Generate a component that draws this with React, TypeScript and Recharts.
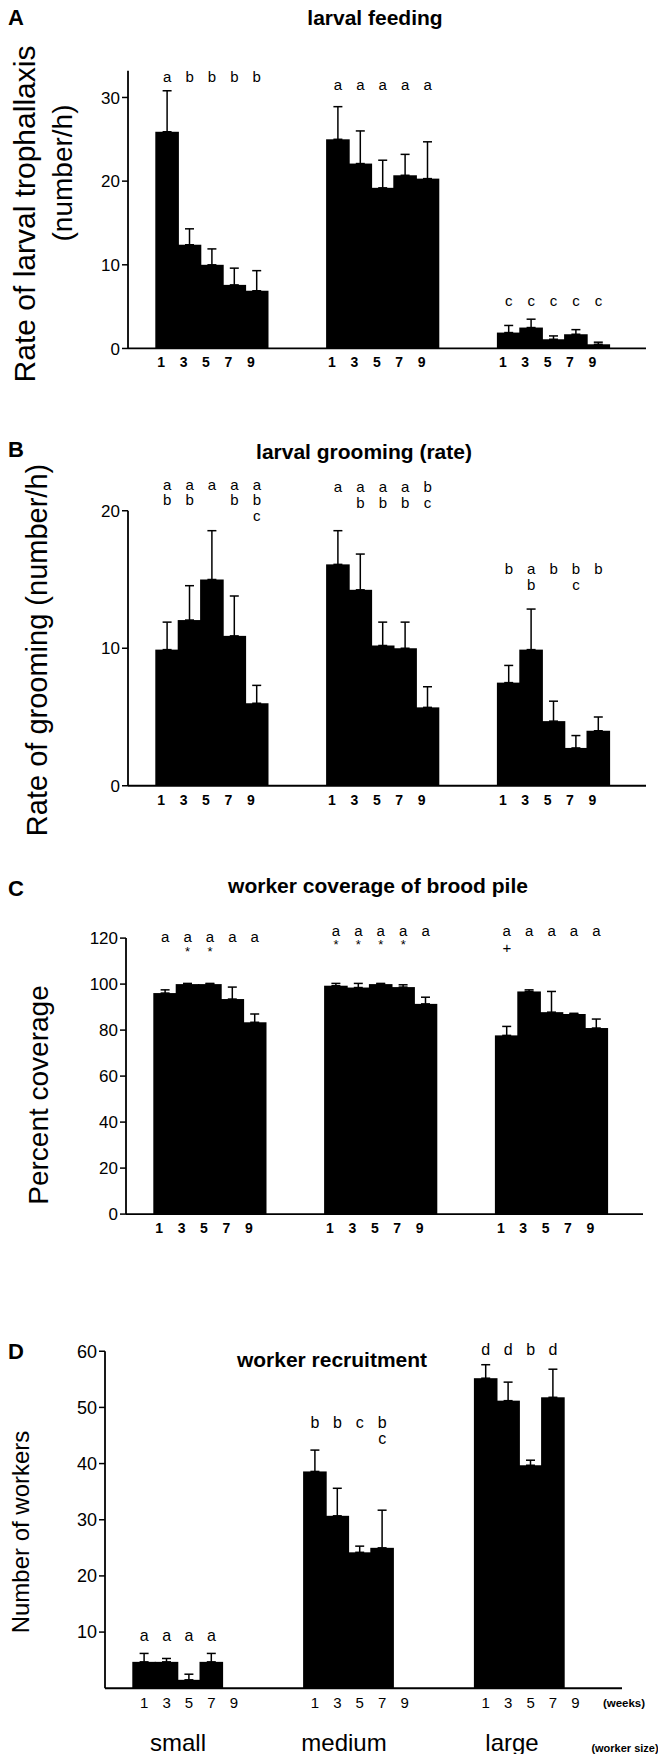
import { Bar, ComposedChart, ErrorBar, ReferenceLine, Scatter, XAxis, YAxis } from "recharts";

const FONT = '"Liberation Sans", Arial, Helvetica, sans-serif';
const WEEKS = [1, 3, 5, 7, 9];
const GROUP_SPAN = 15.25; // x units from one worker-size group to the next
const X_MIN = -2.5;

// A: larval feeding (small, medium, large)
const feedMeans = [
  [25.9, 12.4, 10.0, 7.6, 6.9],
  [25.0, 22.1, 19.2, 20.7, 20.3],
  [1.9, 2.5, 1.1, 1.7, 0.5],
];
const feedSe = [
  [4.9, 1.9, 1.9, 2.0, 2.4],
  [3.9, 3.9, 3.3, 2.5, 4.4],
  [0.85, 1.0, 0.4, 0.55, 0.25],
];
const feedLetters = [
  { group: 0, level: 32.5, marks: ["a", "b", "b", "b", "b"] },
  { group: 1, level: 31.5, marks: ["a", "a", "a", "a", "a"] },
  { group: 2, level: 5.7, marks: ["c", "c", "c", "c", "c"] },
];

// B: larval grooming (rate)
const groomMeans = [
  [9.9, 12.05, 15.0, 10.9, 6.0],
  [16.1, 14.25, 10.2, 10.0, 5.7],
  [7.5, 9.9, 4.7, 2.75, 4.0],
];
const groomSe = [
  [2.0, 2.5, 3.55, 2.9, 1.3],
  [2.45, 2.6, 1.7, 1.9, 1.5],
  [1.25, 2.95, 1.45, 0.9, 1.0],
];
const groomLetters = [
  { group: 0, level: 21.9, marks: ["a", "a", "a", "a", "a"] },
  { group: 0, level: 20.8, marks: ["b", "b", "", "b", "b"] },
  { group: 0, level: 19.65, marks: ["", "", "", "", "c"] },
  { group: 1, level: 21.75, marks: ["a", "a", "a", "a", "b"] },
  { group: 1, level: 20.6, marks: ["", "b", "b", "b", "c"] },
  { group: 2, level: 15.8, marks: ["b", "a", "b", "b", "b"] },
  { group: 2, level: 14.65, marks: ["", "b", "", "c", ""] },
];

// C: worker coverage of brood pile
const coverMeans = [
  [96.1, 100, 100, 93.5, 83.4],
  [99.3, 98.5, 100, 98.7, 91.4],
  [77.7, 96.8, 87.8, 87.0, 80.9],
];
const coverSe = [
  [1.4, 0.3, 0.3, 5.2, 3.6],
  [1.0, 1.8, 0.3, 1.0, 2.9],
  [3.9, 0.7, 9.0, 0.3, 3.9],
];
const coverLetters = [
  { group: 0, level: 120.9, marks: ["a", "a", "a", "a", "a"] },
  { group: 0, level: 114.3, marks: ["", "*", "*", "", ""] },
  { group: 1, level: 123.5, marks: ["a", "a", "a", "a", "a"] },
  { group: 1, level: 117.2, marks: ["*", "*", "*", "*", ""] },
  { group: 2, level: 123.5, marks: ["a", "a", "a", "a", "a"] },
  { group: 2, level: 116, marks: ["+", "", "", "", ""] },
];

// D: worker recruitment (no week-9 bar)
const recruitMeans = [
  [4.7, 4.7, 1.5, 4.7, null],
  [38.6, 30.7, 24.2, 25.0, null],
  [55.2, 51.2, 39.7, 51.8, null],
];
const recruitSe = [
  [1.5, 0.6, 1.0, 1.5, 0],
  [3.8, 4.9, 1.1, 6.7, 0],
  [2.4, 3.3, 0.9, 5.0, 0],
];
const recruitLetters = [
  { group: 0, level: 9.4, marks: ["a", "a", "a", "a", ""] },
  { group: 1, level: 47.4, marks: ["b", "b", "c", "b", ""] },
  { group: 1, level: 44.5, marks: ["", "", "", "c", ""] },
  { group: 2, level: 60.3, marks: ["d", "d", "b", "d", ""] },
];

type LetterRow = { group: number; level: number; marks: string[] };

function buildBars(means: (number | null)[][], ses: number[][]) {
  const rows: { x: number; value: number; err: number[] }[] = [];
  means.forEach((group, g) =>
    group.forEach((v, i) => {
      if (v == null) return;
      rows.push({ x: g * GROUP_SPAN + WEEKS[i], value: v, err: [0, ses[g][i]] });
    })
  );
  return rows;
}

function buildLetters(rows: LetterRow[]) {
  return rows.flatMap((r) =>
    r.marks
      .map((m, i) => ({ x: r.group * GROUP_SPAN + WEEKS[i], y: r.level, text: m }))
      .filter((p) => p.text !== "")
  );
}

const X_TICKS = [0, 1, 2].flatMap((g) => WEEKS.map((w) => g * GROUP_SPAN + w));
function weekOf(v: number) {
  const g = Math.floor((v + 2) / GROUP_SPAN);
  return String(Math.round(v - g * GROUP_SPAN));
}

type PanelProps = {
  means: (number | null)[][];
  ses: number[][];
  letters: LetterRow[];
  plotLeft: number;
  plotRight: number;
  zeroY: number;
  scaleY: number;
  yMax: number;
  axisTop: number;
  yTicks: number[];
  yTickSize: number;
  xTickSize: number;
  xTickBold: boolean;
  xTickDx: number;
  letterSize: number;
};

function Panel(p: PanelProps) {
  const plotH = p.yMax * p.scaleY;
  const top = p.zeroY - plotH - 10;
  const xMax = X_MIN + (p.plotRight - p.plotLeft) / 11.2;
  const pxPerUnit = (p.plotRight - p.plotLeft) / (xMax - X_MIN);
  const fullBar = 2 * pxPerUnit;
  const data = buildBars(p.means, p.ses);
  const marks = buildLetters(p.letters);

  const xTick = (props: any) => (
    <text
      x={props.x + p.xTickDx}
      y={props.y}
      dy="0.71em"
      textAnchor="middle"
      fontFamily={FONT}
      fontSize={p.xTickSize}
      fontWeight={p.xTickBold ? "bold" : "normal"}
      fill="#000"
    >
      {weekOf(props.payload.value)}
    </text>
  );

  const letterShape = (props: any) => (
    <text
      x={props.cx}
      y={props.cy}
      textAnchor="middle"
      dominantBaseline="central"
      fontFamily={FONT}
      fontSize={props.payload.text === "*" ? 13 : p.letterSize}
      fill="#000"
    >
      {props.payload.text}
    </text>
  );

  // keep neighbouring weeks touching, as in the original figure
  const barShape = (props: any) => {
    const cx = props.x + props.width / 2;
    return <rect x={cx - fullBar / 2 - 0.6} y={props.y} width={fullBar + 1.2} height={props.height} fill="#000" />;
  };

  return (
    <div style={{ position: "absolute", left: 0, top }}>
      <ComposedChart
        width={658}
        height={10 + plotH + 40}
        data={data}
        margin={{ top: 10, right: 658 - p.plotRight, bottom: 0, left: 0 }}
      >
        <XAxis
          type="number"
          dataKey="x"
          domain={[X_MIN, xMax]}
          ticks={X_TICKS}
          interval={0}
          height={40}
          tickLine={false}
          tickSize={6}
          tickMargin={3}
          axisLine={{ stroke: "#000", strokeWidth: 1.8 }}
          tick={xTick}
        />
        <YAxis
          type="number"
          domain={[0, p.yMax]}
          ticks={p.yTicks}
          interval={0}
          width={p.plotLeft}
          axisLine={false}
          tickLine={{ stroke: "#000", strokeWidth: 1.5 }}
          tickSize={6}
          tickMargin={2}
          tick={{ fill: "#000", fontSize: p.yTickSize, fontFamily: FONT }}
        />
        <ReferenceLine
          segment={[
            { x: X_MIN, y: 0 },
            { x: X_MIN, y: p.axisTop },
          ]}
          stroke="#000"
          strokeWidth={1.8}
          ifOverflow="visible"
        />
        <Bar dataKey="value" fill="#000" barSize={fullBar - 0.2} shape={barShape} isAnimationActive={false}>
          <ErrorBar dataKey="err" width={4.5} stroke="#000" strokeWidth={1.5} direction="y" />
        </Bar>
        <Scatter data={marks} dataKey="y" shape={letterShape} isAnimationActive={false} />
      </ComposedChart>
    </div>
  );
}

function Rotated({ x, y, size, children }: { x: number; y: number; size: number; children: string }) {
  return (
    <text
      transform={`translate(${x},${y}) rotate(-90)`}
      textAnchor="middle"
      dominantBaseline="central"
      fontFamily={FONT}
      fontSize={size}
      fill="#000"
    >
      {children}
    </text>
  );
}

function Label({ x, y, size, bold, children }: { x: number; y: number; size: number; bold?: boolean; children: string }) {
  return (
    <text
      x={x}
      y={y}
      textAnchor="middle"
      dominantBaseline="central"
      fontFamily={FONT}
      fontSize={size}
      fontWeight={bold ? "bold" : "normal"}
      fill="#000"
    >
      {children}
    </text>
  );
}

export default function App() {
  const common = { yTickSize: 17, xTickSize: 14, xTickBold: true, xTickDx: -6, letterSize: 15 };
  return (
    <div style={{ position: "absolute", left: 0, top: 0, width: 658, height: 1754, background: "#fff", overflow: "hidden" }}>
      <Panel
        {...common}
        means={feedMeans}
        ses={feedSe}
        letters={feedLetters}
        plotLeft={128}
        plotRight={646}
        zeroY={348}
        scaleY={8.367}
        yMax={34}
        axisTop={33.2}
        yTicks={[0, 10, 20, 30]}
      />
      <Panel
        {...common}
        means={groomMeans}
        ses={groomSe}
        letters={groomLetters}
        plotLeft={128}
        plotRight={646}
        zeroY={786}
        scaleY={13.75}
        yMax={22.6}
        axisTop={20}
        yTicks={[0, 10, 20]}
      />
      <Panel
        {...common}
        means={coverMeans}
        ses={coverSe}
        letters={coverLetters}
        plotLeft={126}
        plotRight={643}
        zeroY={1214}
        scaleY={2.3}
        yMax={127}
        axisTop={120}
        yTicks={[0, 20, 40, 60, 80, 100, 120]}
      />
      <Panel
        means={recruitMeans}
        ses={recruitSe}
        letters={recruitLetters}
        plotLeft={105}
        plotRight={622}
        zeroY={1688}
        scaleY={5.617}
        yMax={62}
        axisTop={60}
        yTicks={[10, 20, 30, 40, 50, 60]}
        yTickSize={18}
        xTickSize={15}
        xTickBold={false}
        xTickDx={0}
        letterSize={16}
      />
      <svg width={658} height={1754} style={{ position: "absolute", left: 0, top: 0, pointerEvents: "none" }}>
        <Label x={16} y={17} size={22} bold>A</Label>
        <Label x={375} y={17} size={21} bold>larval feeding</Label>
        <Rotated x={24} y={214} size={30}>Rate of larval trophallaxis</Rotated>
        <Rotated x={62} y={173} size={28}>(number/h)</Rotated>

        <Label x={16} y={449} size={22} bold>B</Label>
        <Label x={364} y={451} size={21} bold>larval grooming (rate)</Label>
        <Rotated x={37} y={650} size={29}>Rate of grooming (number/h)</Rotated>

        <Label x={16} y={888} size={22} bold>C</Label>
        <Label x={378} y={885} size={21} bold>worker coverage of brood pile</Label>
        <Rotated x={38} y={1095} size={28}>Percent coverage</Rotated>

        <Label x={16} y={1351} size={22} bold>D</Label>
        <Label x={332} y={1359} size={21} bold>worker recruitment</Label>
        <Rotated x={20} y={1532} size={24}>Number of workers</Rotated>
        <Label x={624} y={1703} size={11.5} bold>(weeks)</Label>
        <Label x={178} y={1742} size={24}>small</Label>
        <Label x={344} y={1742} size={24}>medium</Label>
        <Label x={512} y={1742} size={24}>large</Label>
        <Label x={625} y={1748} size={11} bold>(worker size)</Label>
      </svg>
    </div>
  );
}
